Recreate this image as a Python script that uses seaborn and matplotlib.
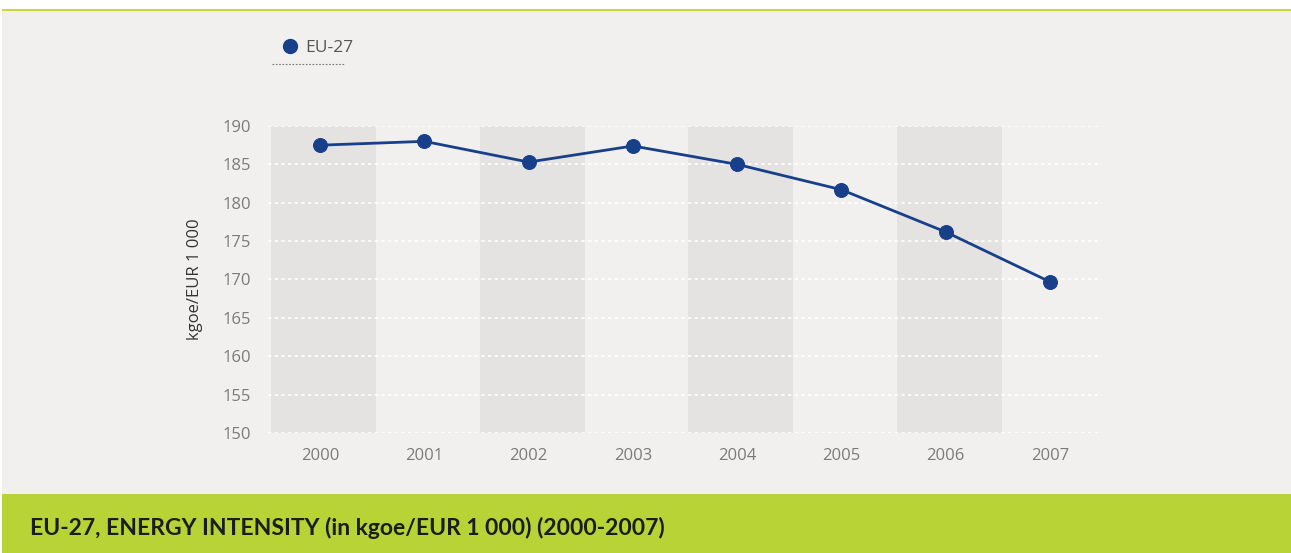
import matplotlib
matplotlib.use("Agg")
import matplotlib.pyplot as plt
from matplotlib.lines import Line2D
from matplotlib.patches import Rectangle
import numpy as np
import seaborn as sns

# data
years = ["2000", "2001", "2002", "2003", "2004", "2005", "2006", "2007"]
intensity = [187.5, 188.0, 185.3, 187.4, 185.0, 181.7, 176.2, 169.7]
y_ticks = [150, 155, 160, 165, 170, 175, 180, 185, 190]
series_name = "EU-27"
title = "EU-27, ENERGY INTENSITY (in kgoe/EUR 1 000) (2000-2007)"

bg = "#f1f0ee"
band = "#e4e3e1"
green = "#b8d335"
blue = "#173f8a"
grey_txt = "#7b7b7b"

sns.set_style("white")
plt.rcParams["font.family"] = ["Open Sans", "DejaVu Sans"]

fig = plt.figure(figsize=(12.91, 5.53), dpi=100)
fig.patch.set_facecolor("white")

# page background, top rule and title bar
fig.add_artist(Rectangle((2 / 1291, 59 / 553), 1, (494 - 11) / 553, transform=fig.transFigure,
                         facecolor=bg, edgecolor="none", zorder=0))
fig.add_artist(Rectangle((2 / 1291, (553 - 11) / 553), 1, 2.5 / 553, transform=fig.transFigure,
                         facecolor="#c5d93a", edgecolor="none", zorder=0))
fig.add_artist(Rectangle((2 / 1291, 0), 1, 59 / 553, transform=fig.transFigure,
                         facecolor=green, edgecolor="none", zorder=0))
fig.text(30 / 1291, 25 / 553, title, fontsize=16.5, fontweight="bold", color="#1c1c1c",
         va="center", ha="left", family=["Lato", "DejaVu Sans"])

ax = fig.add_axes([268 / 1291, 120 / 553, 834 / 1291, 307 / 553])
ax.set_facecolor("none")

x = np.arange(len(years))
for i in x[::2]:
    ax.axvspan(i - 0.47, i + 0.54, color=band, lw=0, zorder=0)
for yv in y_ticks:
    ax.axhline(yv, color="white", lw=1.2, ls=(0, (2, 2)), zorder=1)

sns.lineplot(x=x, y=intensity, ax=ax, color=blue, lw=2, marker="o", markersize=10,
             markeredgecolor=blue, zorder=3, legend=False)

ax.set_xlim(-0.5, 7.5)
ax.set_ylim(150, 190)
ax.set_xticks(x)
ax.set_xticklabels(years)
ax.set_yticks(y_ticks)
ax.tick_params(axis="both", length=0, labelsize=12, colors=grey_txt)
ax.tick_params(axis="x", pad=11)
ax.tick_params(axis="y", pad=12)
ax.set_ylabel("kgoe/EUR 1 000", fontsize=12, color="#333333", labelpad=14)
ax.set_xlabel("")
sns.despine(ax=ax, left=True, bottom=True)

# legend
handle = Line2D([], [], marker="o", ls="none", color=blue, markersize=10)
fig.legend([handle], [series_name], loc="center left",
           bbox_to_anchor=(264 / 1291, (553 - 48) / 553), frameon=False,
           handletextpad=0.3, handlelength=1.2, fontsize=12.5, labelcolor="#555555")
fig.add_artist(Line2D([272 / 1291, 344 / 1291], [(553 - 64) / 553] * 2, transform=fig.transFigure,
                      color="#777777", lw=0.8, ls=(0, (1.5, 1.5))))

fig.savefig("out.png", dpi=100, facecolor=fig.get_facecolor())
